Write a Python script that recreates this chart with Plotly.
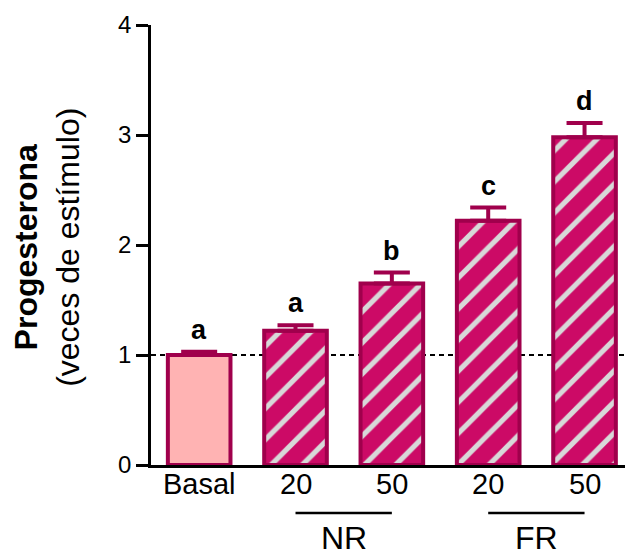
import plotly.graph_objects as go

# ---- data ----
categories = ["Basal", "NR 20", "NR 50", "FR 20", "FR 50"]
tick_labels = ["Basal", "20", "50", "20", "50"]
means = [1.00, 1.22, 1.65, 2.22, 2.98]
sems = [0.03, 0.05, 0.10, 0.12, 0.13]
letters = ["a", "a", "b", "c", "d"]
groups = ["NR", "FR"]
group_spans = [(1, 2), (3, 4)]

FONT = "Liberation Sans, Arial, sans-serif"
MAGENTA = "#CC0A66"
EDGE = "#A0004C"
STRIPE = "#D8D8D8"
BASAL = "#FFB3B3"

xpos = list(range(len(categories)))

fig = go.Figure()

# basal bar (plain)
fig.add_trace(go.Bar(
    x=[xpos[0]], y=[means[0]], width=0.65,
    marker=dict(color=BASAL, line=dict(color=EDGE, width=4)),
    error_y=dict(type="data", array=[sems[0]], arrayminus=[0], symmetric=False,
                 color=EDGE, thickness=4, width=18),
    showlegend=False,
))
# hatched bars
fig.add_trace(go.Bar(
    x=xpos[1:], y=means[1:], width=0.65,
    marker=dict(color=MAGENTA, line=dict(color=EDGE, width=4),
                pattern=dict(shape="/", fgcolor=STRIPE, bgcolor=MAGENTA,
                             size=22, solidity=0.24, fillmode="replace")),
    error_y=dict(type="data", array=sems[1:], arrayminus=[0] * 4, symmetric=False,
                 color=EDGE, thickness=4, width=18),
    showlegend=False,
))

# significance letters
for x, m, s, t in zip(xpos, means, sems, letters):
    fig.add_annotation(x=x, y=m + s, text=f"<b>{t}</b>", showarrow=False,
                       yanchor="bottom", yshift=5,
                       font=dict(family=FONT, size=27, color="black"))

# category labels under the axis
for x, t in zip(xpos, tick_labels):
    fig.add_annotation(x=x, xref="x", y=-0.044, yref="paper", text=t,
                       showarrow=False, yanchor="middle",
                       font=dict(family=FONT, size=29, color="black"))

# reference dashed line at 1
fig.add_shape(type="line", xref="x", yref="y", x0=-0.5, x1=4.42, y0=1, y1=1,
              line=dict(color="black", width=2, dash="5px,4px"), layer="below")

# group underlines and labels
for g, (a, b) in zip(groups, group_spans):
    fig.add_shape(type="line", xref="x", yref="paper", x0=a, x1=b,
                  y0=-0.109, y1=-0.109, line=dict(color="black", width=2.5))
    fig.add_annotation(x=(a + b) / 2, xref="x", y=-0.167, yref="paper",
                       text=g, showarrow=False, yanchor="middle",
                       font=dict(family=FONT, size=32, color="black"))

# y title
fig.add_annotation(x=-0.218, xref="paper", xanchor="center", y=0.495, yref="paper",
                   text="<b>Progesterona</b><br>(veces de estímulo)",
                   textangle=-90, showarrow=False,
                   font=dict(family=FONT, size=32, color="black"))

fig.update_layout(
    width=625, height=559,
    margin=dict(l=151, r=0, t=25, b=94),
    plot_bgcolor="white", paper_bgcolor="white",
    font=dict(family=FONT, color="black"),
    xaxis=dict(range=[-0.5, 4.42], tickvals=xpos, showticklabels=False,
               showline=True, linecolor="black", linewidth=2.5,
               ticks="", showgrid=False, zeroline=False),
    yaxis=dict(range=[0, 4], tickvals=[0, 1, 2, 3, 4],
               showline=True, linecolor="black", linewidth=2.5,
               ticks="outside", ticklen=12, tickwidth=2.5, tickcolor="black",
               showgrid=False, zeroline=False,
               tickfont=dict(family=FONT, size=24, color="black")),
)

fig.write_html("out.html")
